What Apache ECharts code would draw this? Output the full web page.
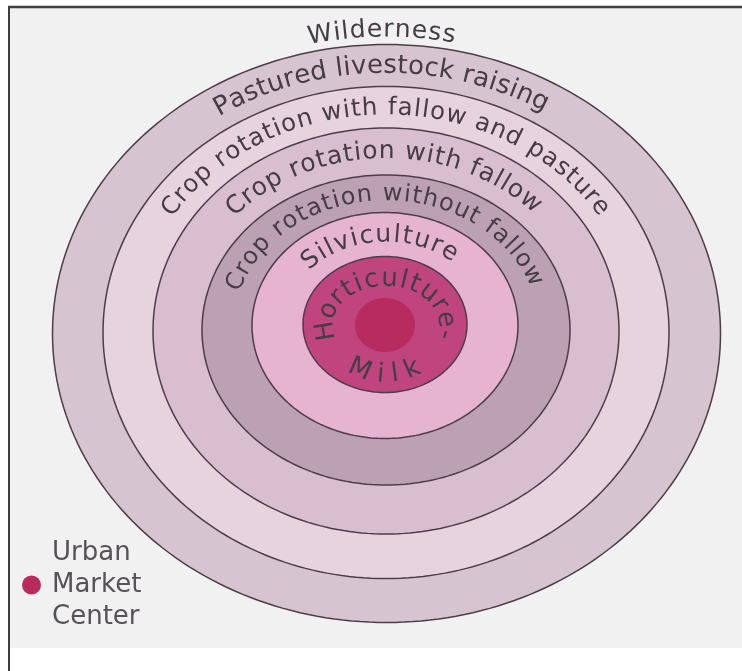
<!DOCTYPE html>
<html>
<head>
<meta charset="utf-8">
<style>
  html, body { margin: 0; padding: 0; background: #fff; }
  #main { width: 742px; height: 671px; }
</style>
<script src="https://cdn.jsdelivr.net/npm/echarts@6/dist/echarts.min.js"></script>
</head>
<body>
<div id="main"></div>
<script>
// von Thünen zones, distances measured from the market centre (y up)
const zoneNames = ['Pastured livestock raising', 'Crop rotation with fallow and pasture', 'Crop rotation with fallow',
  'Crop rotation without fallow', 'Silviculture', 'Horticulture-Milk'];
const zoneCenterX = [0.5, 0, 0, 0, -1, -1];
const zoneCenterY = [-8.5, -7.5, -6, -5, -0.5, 0.5];
const zoneRadiusX = [334, 283, 233, 184, 133, 82];
const zoneRadiusY = [289, 246, 203, 155, 113, 68];

const marketName = 'Urban\nMarket\nCenter';
const marketCenter = [-1, 0];
const marketRadius = [30, 27];

// curved labels: text, path ellipse and angular span (degrees)
const labelTexts = ['Wilderness', 'Pastured livestock raising', 'Crop rotation with fallow and pasture',
  'Crop rotation with fallow', 'Crop rotation without fallow', 'Silviculture', 'Horticulture-', 'Milk'];
const labelCenterY = [-8, -8, -7, -5.5, -3, 0, 0, 0];
const labelRadiusX = [345, 308, 258, 208, 159, 108, 60, 58];
const labelRadiusY = [303, 267, 224, 179, 134, 90, 46, 50];
const labelFromDeg = [101, 122, 146, 136, 160, 134, 187, 243];
const labelToDeg = [79.5, 60, 34, 46, 23, 54, -12, 297];

const zoneColors = ['#d6c4d0', '#e7d3de', '#d8bece', '#bca0b4', '#e6b3d0', '#c0447e'];
const marketColor = '#b72b5e';
const labelSizes = [25, 26, 24.5, 25, 24, 25, 26, 26];
const fontFamily = '"DejaVu Sans", sans-serif';
const textColor = '#463c46';

var chart = echarts.init(document.getElementById('main'));
var measureCtx = document.createElement('canvas').getContext('2d');

function ellipsePolygon(api, cx, cy, rx, ry) {
  var pts = [];
  for (var k = 0; k < 240; k++) {
    var a = k / 240 * Math.PI * 2;
    pts.push(api.coord([cx + rx * Math.cos(a), cy + ry * Math.sin(a)]));
  }
  return pts;
}

function renderZone(params, api) {
  var i = params.dataIndex;
  return {
    type: 'polygon',
    shape: { points: ellipsePolygon(api, api.value(0), api.value(1), api.value(2), api.value(3)) },
    style: { fill: zoneColors[i], stroke: '#4d3d4a', lineWidth: 1.5 }
  };
}

function renderMarket(params, api) {
  return {
    type: 'polygon',
    shape: { points: ellipsePolygon(api, api.value(0), api.value(1), api.value(2), api.value(3)) },
    style: { fill: api.visual('color') }
  };
}

// lay the characters of one label along an ellipse arc
function renderLabel(params, api) {
  var i = params.dataIndex;
  var c = api.coord([api.value(0), api.value(1)]);
  var r = api.size([api.value(2), api.value(3)]);
  var t0 = api.value(4) * Math.PI / 180, t1 = api.value(5) * Math.PI / 180;
  var dir = t1 > t0 ? 1 : -1;
  var pt = function (t) { return [c[0] + r[0] * Math.cos(t), c[1] - r[1] * Math.sin(t)]; };

  var N = 600, ts = [t0], ss = [0], prev = pt(t0);
  for (var k = 1; k <= N; k++) {
    var t = t0 + (t1 - t0) * k / N, p = pt(t);
    ss.push(ss[k - 1] + Math.hypot(p[0] - prev[0], p[1] - prev[1]));
    ts.push(t);
    prev = p;
  }
  var L = ss[N];

  var text = labelTexts[i];
  var font = labelSizes[i] + 'px ' + fontFamily;
  measureCtx.font = font;
  var chars = text.split('');
  var w = chars.map(function (ch) { return measureCtx.measureText(ch).width; });
  var pos = [0];
  for (var k = 1; k < chars.length; k++) pos.push(pos[k - 1] + (w[k - 1] + w[k]) / 2);
  var gap = chars.length > 1 ? (L - pos[pos.length - 1]) / (chars.length - 1) : 0;

  var children = [];
  var j = 0;
  chars.forEach(function (ch, k) {
    var s = pos[k] + k * gap;
    while (j < N && ss[j + 1] < s) j++;
    var f = ss[j + 1] > ss[j] ? (s - ss[j]) / (ss[j + 1] - ss[j]) : 0;
    var t = ts[j] + (ts[Math.min(j + 1, N)] - ts[j]) * f;
    var p = pt(t);
    var dx = dir * -r[0] * Math.sin(t), dy = dir * -r[1] * Math.cos(t);
    if (ch === ' ') return;
    children.push({
      type: 'text',
      x: p[0], y: p[1],
      rotation: -Math.atan2(dy, dx),
      style: { text: ch, font: font, fill: textColor, align: 'center', verticalAlign: 'middle' }
    });
  });
  return { type: 'group', children: children };
}

var option = {
  backgroundColor: '#ffffff',
  animation: false,
  grid: { left: 0, right: 0, top: 0, bottom: 0 },
  xAxis: { type: 'value', min: -386, max: 356, show: false },
  yAxis: { type: 'value', min: -346, max: 325, show: false },
  legend: {
    left: 22, top: 537, padding: 0,
    icon: 'circle', itemWidth: 21, itemHeight: 19,
    selectedMode: false,
    data: [marketName],
    textStyle: { fontSize: 26, lineHeight: 32, color: '#57515a', fontFamily: fontFamily, padding: [0, 0, 0, 5] }
  },
  graphic: [
    { type: 'rect', z: 0, shape: { x: 9, y: 7, width: 733, height: 641 }, style: { fill: '#f2f1f1' } },
    { type: 'line', z: 10, shape: { x1: 8, y1: 7, x2: 742, y2: 7 }, style: { stroke: '#3e3e3e', lineWidth: 2.5 } },
    { type: 'line', z: 10, shape: { x1: 9, y1: 6, x2: 9, y2: 671 }, style: { stroke: '#3e3e3e', lineWidth: 2 } }
  ],
  series: [
    {
      type: 'custom',
      name: 'zones',
      silent: true,
      renderItem: renderZone,
      data: zoneNames.map(function (n, i) {
        return [zoneCenterX[i], zoneCenterY[i], zoneRadiusX[i], zoneRadiusY[i]];
      })
    },
    {
      type: 'custom',
      name: marketName,
      silent: true,
      itemStyle: { color: marketColor },
      renderItem: renderMarket,
      data: [[marketCenter[0], marketCenter[1], marketRadius[0], marketRadius[1]]]
    },
    {
      type: 'custom',
      name: 'labels',
      silent: true,
      z: 5,
      renderItem: renderLabel,
      data: labelTexts.map(function (t, i) {
        return [0, labelCenterY[i], labelRadiusX[i], labelRadiusY[i], labelFromDeg[i], labelToDeg[i]];
      })
    }
  ]
};

chart.setOption(option);
</script>
</body>
</html>
